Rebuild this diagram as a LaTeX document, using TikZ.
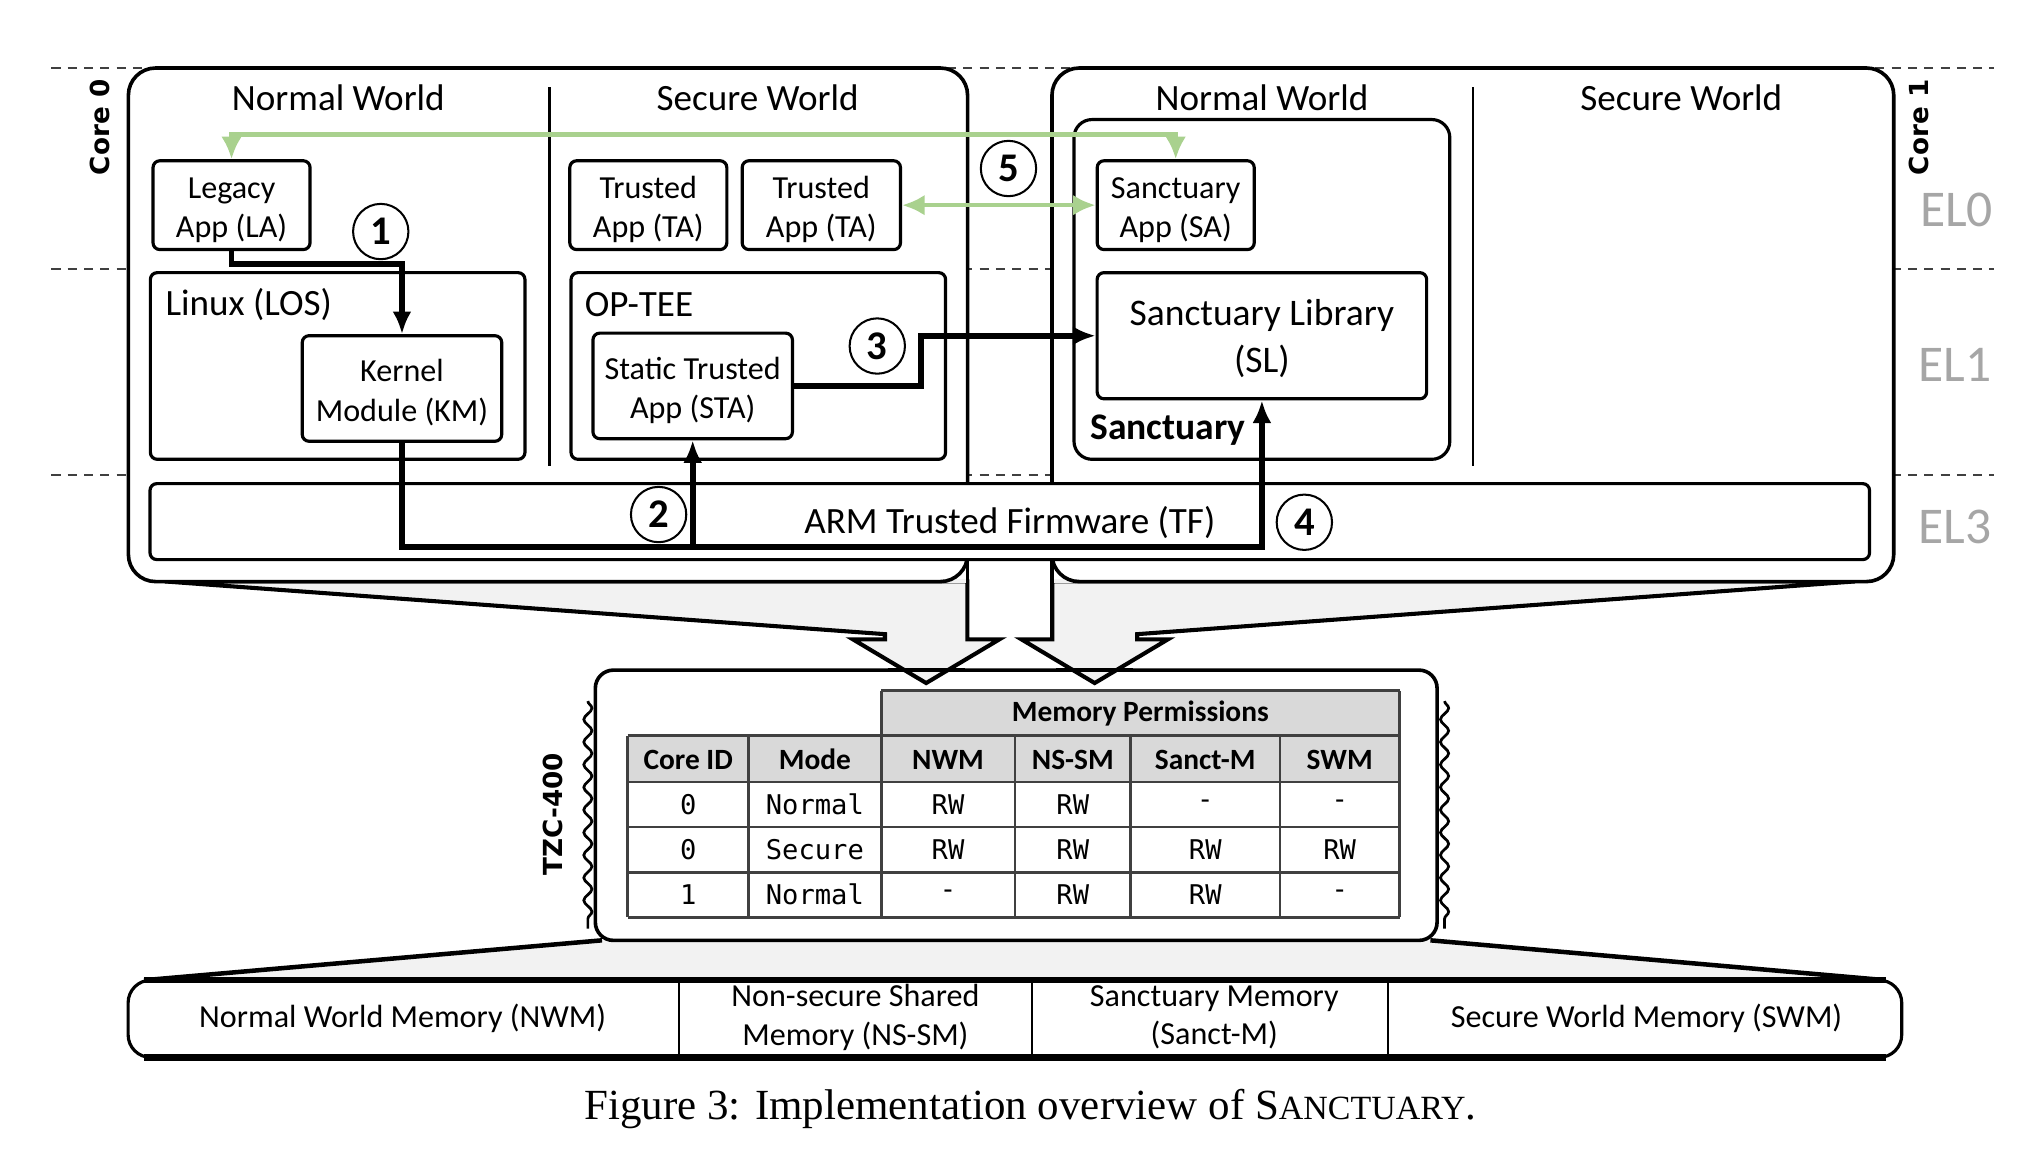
\documentclass[tikz,border=0pt]{standalone}
\usepackage{fontspec}
\setmainfont{Carlito}
\newfontfamily\capfont{Liberation Serif}
\newfontfamily\codefont{DejaVu Sans Mono}
\newfontfamily\corefont{DejaVu Sans}
\usetikzlibrary{arrows.meta,decorations.pathmorphing}

\definecolor{leaf}{HTML}{A9D18E}
\definecolor{hdr}{HTML}{D9D9D9}
\definecolor{funnelgray}{HTML}{F2F2F2}
\definecolor{elgray}{HTML}{A6A6A6}
\definecolor{gridgray}{HTML}{404040}

% strut that lowers two-line box captions a little
\newcommand{\toplift}{\rule{0pt}{6.8pt}}

\begin{document}
\begin{tikzpicture}[x=0.01cm, y=-0.01cm,
  box/.style={draw, line width=0.7pt, rounded corners=1.5pt, fill=white, align=center,
    inner sep=0pt, font=\fontsize{7.1}{8.7}\selectfont},
  cont/.style={draw, line width=0.7pt, rounded corners=4pt, fill=white, inner sep=0pt},
  corebox/.style={draw, line width=0.8pt, rounded corners=6pt, fill=white, inner sep=0pt},
  world/.style={font=\fontsize{8.2}{10}\selectfont},
  lbl/.style={world, anchor=west, inner sep=0pt},
  num/.style={draw, circle, line width=0.45pt, minimum size=0.43cm, inner sep=0pt, fill=white,
    font=\bfseries\fontsize{9}{9}\selectfont},
  blk/.style={line width=1.3pt, -{Latex[length=5pt,width=4.2pt]}},
  grn/.style={leaf, line width=1pt, {Latex[length=5pt,width=4.6pt]}-{Latex[length=5pt,width=4.6pt]}},
  elab/.style={elgray, font=\fontsize{11.4}{12}\selectfont},
  corelab/.style={rotate=90, font=\corefont\bfseries\fontsize{5.8}{6}\selectfont},
  th/.style={font=\bfseries\fontsize{6.5}{7}\selectfont, inner sep=0pt},
  td/.style={font=\codefont\fontsize{6}{7}\selectfont, inner sep=0pt},
  memtxt/.style={align=center, font=\fontsize{7.1}{8.5}\selectfont},
  tline/.style={gridgray, line width=0.6pt},
  funnel/.style={fill=funnelgray, draw, line width=0.9pt, line join=miter}
]
\useasboundingbox (0,0) rectangle (1568,900);

% exception-level separators
\foreach \yy in {53,209,369}
  \draw[gridgray, line width=0.4pt, dash pattern=on 2pt off 1.6pt] (40,\yy) -- (1550,\yy);

% funnel from TZC-400 to the memory bar
\fill[funnelgray] (468,731) -- (1112,731) -- (1466,762) -- (112,762) -- cycle;
\draw[line width=1pt] (468,731) -- (112,762);
\draw[line width=1pt] (1112,731) -- (1466,762);

% memory regions
\node[cont, rounded corners=5pt, minimum width=13.78cm, minimum height=0.6cm] (mem) at (789,792) {};
\draw[line width=1.4pt] (112,762) -- (1466,762);
\draw[line width=1.4pt] (112,822) -- (1466,822);
\foreach \xx in {528,802,1079}
  \draw[line width=0.5pt] (\xx,762) -- (\xx,822);
\node[memtxt] (nwm) at (313,792) {Normal World Memory (NWM)};
\node[memtxt] (nssm) at (665,791) {Non-secure Shared\\Memory (NS-SM)};
\node[memtxt] (sancm) at (944,791) {Sanctuary Memory\\(Sanct-M)};
\node[memtxt] (swm) at (1280,792) {Secure World Memory (SWM)};

% TZC-400 controller
\node[cont, line width=0.8pt, minimum width=6.54cm, minimum height=2.1cm] (tzc) at (790,626) {};
\draw[line width=0.6pt, decorate, decoration={snake, segment length=5pt, amplitude=0.9pt}] (457,545) -- (457,722);
\draw[line width=0.6pt, decorate, decoration={snake, segment length=5pt, amplitude=0.9pt}] (1123,545) -- (1123,722);
\node[corelab] (tzclab) at (430,633) {TZC-400};

% core 0 funnel arrow
\path[funnel] (752,452) -- (128,452) -- (688,493) -- (688,497) -- (663,497) -- (720,531)
  -- (777,497) -- (752,497) -- cycle;
\fill[funnelgray] (129,450) rectangle (751,453);
% core 1 funnel arrow
\path[funnel] (818,452) -- (1442,452) -- (884,493) -- (884,497) -- (908,497) -- (851,531)
  -- (794,497) -- (818,497) -- cycle;
\fill[funnelgray] (819,450) rectangle (1441,453);
\draw[line width=0.8pt] (690,521) -- (750,521);
\draw[line width=0.8pt] (821,521) -- (881,521);

% cores
\node[corebox, minimum width=6.52cm, minimum height=3.99cm] (core0) at (426,252.5) {};
\node[corebox, minimum width=6.54cm, minimum height=3.99cm] (core1) at (1145,252.5) {};
\draw[line width=0.8pt] (752,436) -- (752,497);
\draw[line width=0.8pt] (818,436) -- (818,497);
\node[corelab] (c0lab) at (78,99) {Core 0};
\node[corelab] (c1lab) at (1492,99) {Core 1};

% exception levels
\node[elab] (el0) at (1521,163) {EL0};
\node[elab] (el1) at (1520,284) {EL1};
\node[elab] (el3) at (1520,410) {EL3};

% worlds
\node[world] (nw0) at (263,76) {Normal World};
\node[world] (sw0) at (589,76) {Secure World};
\node[world] (nw1) at (981,76) {Normal World};
\node[world] (sw1) at (1307,76) {Secure World};
\draw[line width=0.6pt] (427,68) -- (427,362);
\draw[line width=0.6pt] (1145,68) -- (1145,362);

% core 0 components
\node[box, minimum width=1.22cm, minimum height=0.69cm] (la) at (180,159.5) {\toplift Legacy\\App (LA)};
\node[box, minimum width=1.22cm, minimum height=0.69cm] (ta1) at (504,159.5) {\toplift Trusted\\App (TA)};
\node[box, minimum width=1.23cm, minimum height=0.69cm] (ta2) at (638.5,159.5) {\toplift Trusted\\App (TA)};
\node[box, minimum width=2.91cm, minimum height=1.45cm] (los) at (262.5,284.5) {};
\node[lbl] (loslab) at (128,237) {Linux (LOS)};
\node[box, minimum width=1.55cm, minimum height=0.82cm] (km) at (312.5,302) {\toplift Kernel\\Module (KM)};
\node[box, minimum width=2.91cm, minimum height=1.45cm] (optee) at (589.5,284.5) {};
\node[lbl] (opteelab) at (454,237) {OP-TEE};
\node[box, minimum width=1.55cm, minimum height=0.82cm] (sta) at (538.5,300) {\toplift Static Trusted\\App (STA)};

% core 1 components
\node[cont, minimum width=2.92cm, minimum height=2.64cm] (sanct) at (981,225) {};
\node[anchor=west, inner sep=0pt, font=\bfseries\fontsize{8.3}{9}\selectfont] (sanctlab) at (847,334) {Sanctuary};
\node[box, minimum width=1.22cm, minimum height=0.69cm] (sa) at (914,159.5) {\toplift Sanctuary\\App (SA)};
\node[box, minimum width=2.56cm, minimum height=0.98cm, font=\fontsize{8.3}{10.2}\selectfont] (sl) at (981,261) {\rule{0pt}{7pt}Sanctuary Library\\(SL)};

% trusted firmware
\node[box, minimum width=13.36cm, minimum height=0.59cm] (tf) at (785,405.5) {};
\node[world] (tflab) at (785,406) {ARM Trusted Firmware (TF)};

% control flow
\draw[blk] (la.south) -- (la.south |- 0,205) -| (km.north);
\draw[blk] (km.south) |- (sl.south |- 0,425) -- (sl.south);
\draw[blk] (sta.south |- 0,425) -- (sta.south);
\draw[blk] (sta.east) -- ++(99,0) |- (sl.west);
\draw[grn] (la.north) -- ++(0,-19) -| (sa.north);
\draw[grn] (ta2.east) -- (sa.west);

\node[num] (n1) at (296,180) {1};
\node[num] (n2) at (512,400) {2};
\node[num] (n3) at (682,269) {3};
\node[num] (n4) at (1014,406) {4};
\node[num] (n5) at (784,131) {5};

% permission table
\fill[hdr] (685,537) rectangle (1088,572);
\fill[hdr] (488,572) rectangle (1088,608);
\draw[tline] (685,537) -- (1088,537);
\foreach \yy in {572,608,643,678,713}
  \draw[tline] (488,\yy) -- (1088,\yy);
\foreach \xx in {488,582,789,879,995}
  \draw[tline] (\xx,572) -- (\xx,713);
\draw[tline] (685,537) -- (685,713);
\draw[tline] (1088,537) -- (1088,713);
\node[th] (perm) at (886.5,555) {Memory Permissions};
\foreach \xx/\txt [count=\i] in {535/Core ID,633.5/Mode,737/NWM,834/NS-SM,937/Sanct-M,1041.5/SWM}
  \node[th] (h\i) at (\xx,590.5) {\txt};
\foreach \yy/\a/\b/\c/\d/\e/\f [count=\r] in {
    625.5/0/Normal/RW/RW/-/-,
    660.5/0/Secure/RW/RW/RW/RW,
    695.5/1/Normal/-/RW/RW/-} {
  \node[td] (r\r c1) at (535,\yy) {\a};
  \node[td] (r\r c2) at (633.5,\yy) {\b};
  \node[td] (r\r c3) at (737,\yy) {\c};
  \node[td] (r\r c4) at (834,\yy) {\d};
  \node[td] (r\r c5) at (937,\yy) {\e};
  \node[td] (r\r c6) at (1041.5,\yy) {\f};
}

% caption
\node[font=\capfont\fontsize{9.5}{11}\selectfont] (cap) at (801,862)
  {Figure 3: Implementation overview of S{\fontsize{7.5}{9}\selectfont ANCTUARY}.};
\end{tikzpicture}
\end{document}
